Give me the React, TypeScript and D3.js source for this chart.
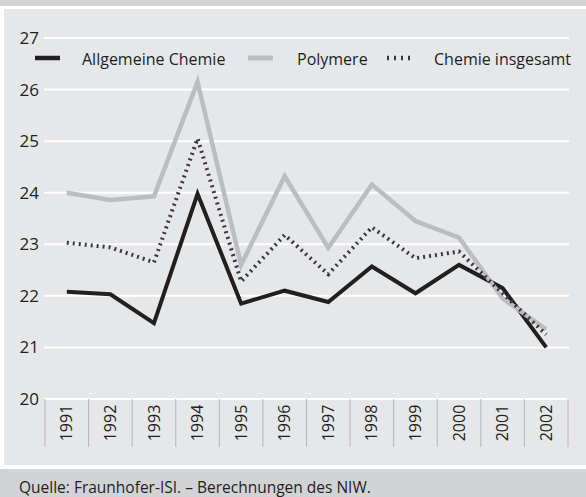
import React from 'react';
import * as d3 from 'd3';

// values
const years = ['1991', '1992', '1993', '1994', '1995', '1996', '1997', '1998', '1999', '2000', '2001', '2002'];
const allgemeine = [22.08, 22.03, 21.47, 23.98, 21.85, 22.1, 21.88, 22.57, 22.05, 22.6, 22.15, 21.0];
const polymere = [24.0, 23.86, 23.93, 26.15, 22.6, 24.32, 22.93, 24.16, 23.45, 23.13, 21.95, 21.35];
const insgesamt = [23.03, 22.94, 22.65, 25.05, 22.28, 23.18, 22.42, 23.33, 22.73, 22.86, 22.05, 21.25];
const yTicks = [20, 21, 22, 23, 24, 25, 26, 27];

const W = 586;
const H = 497;
const font = "'Open Sans', 'Noto Sans', sans-serif";

export default function App() {
  const x = d3.scaleBand().domain(years).range([45, 568]);
  const y = d3.scaleLinear().domain([20, 27]).range([399, 38]);
  const line = d3.line<number>()
    .x((_, i) => (x(years[i]) as number) + x.bandwidth() / 2)
    .y(d => y(d));

  const series = [
    { name: 'Allgemeine Chemie', values: allgemeine, color: '#231f20', dash: undefined, width: 4 },
    { name: 'Polymere', values: polymere, color: '#bcbdc0', dash: undefined, width: 4.5 },
    { name: 'Chemie insgesamt', values: insgesamt, color: '#3a3a3c', dash: '2,4', width: 4 },
  ];
  // [swatch start, text start]
  const legendX = [[35, 82], [248, 297], [386, 434]];

  return (
    <svg width={W} height={H} style={{ position: 'absolute', left: 0, top: 0 }} fontFamily={font}>
      <rect x={0} y={0} width={W} height={H} fill="#ffffff" />
      <rect x={0} y={0} width={W} height={6} fill="#d2d3d5" />
      <rect x={4} y={9} width={W - 4} height={456} fill="#e6e7e9" />
      <rect x={0} y={469} width={W} height={28} fill="#d2d3d5" />

      {yTicks.map(t => (
        <g key={t}>
          <line x1={44} x2={569} y1={y(t)} y2={y(t)} stroke="#ffffff" strokeWidth={2} />
          <text x={39} y={y(t)} dy="0.35em" textAnchor="end" fontSize={17} fill="#231f20">{t}</text>
        </g>
      ))}

      {years.map((yr, i) => (
        <g key={yr}>
          <line x1={x(yr) as number} x2={x(yr) as number} y1={399} y2={447} stroke="#b5b6b8" strokeWidth={1} />
          {i === years.length - 1 && (
            <line x1={(x(yr) as number) + x.bandwidth()} x2={(x(yr) as number) + x.bandwidth()} y1={399} y2={447} stroke="#b5b6b8" strokeWidth={1} />
          )}
          <text
            transform={`translate(${(x(yr) as number) + x.bandwidth() / 2},${423}) rotate(-90)`}
            textAnchor="middle" dy="0.35em" fontSize={16} fill="#231f20"
          >{yr}</text>
        </g>
      ))}

      {series.map(s => (
        <path key={s.name} d={line(s.values) as string} fill="none" stroke={s.color}
          strokeWidth={s.width} strokeDasharray={s.dash} strokeLinejoin="miter" />
      ))}

      {series.map((s, i) => (
        <g key={s.name}>
          <line x1={legendX[i][0]} x2={legendX[i][0] + 25} y1={58} y2={58} stroke={s.color}
            strokeWidth={s.width + 0.5} strokeDasharray={s.dash ? '2,5' : undefined} strokeDashoffset={s.dash ? -1 : 0} />
          <text x={legendX[i][1]} y={59} dy="0.35em" fontSize={16} fill="#231f20">{s.name}</text>
        </g>
      ))}

      <text x={19} y={493} fontSize={15.5} fill="#231f20">Quelle: Fraunhofer-ISI. – Berechnungen des NIW.</text>
    </svg>
  );
}
